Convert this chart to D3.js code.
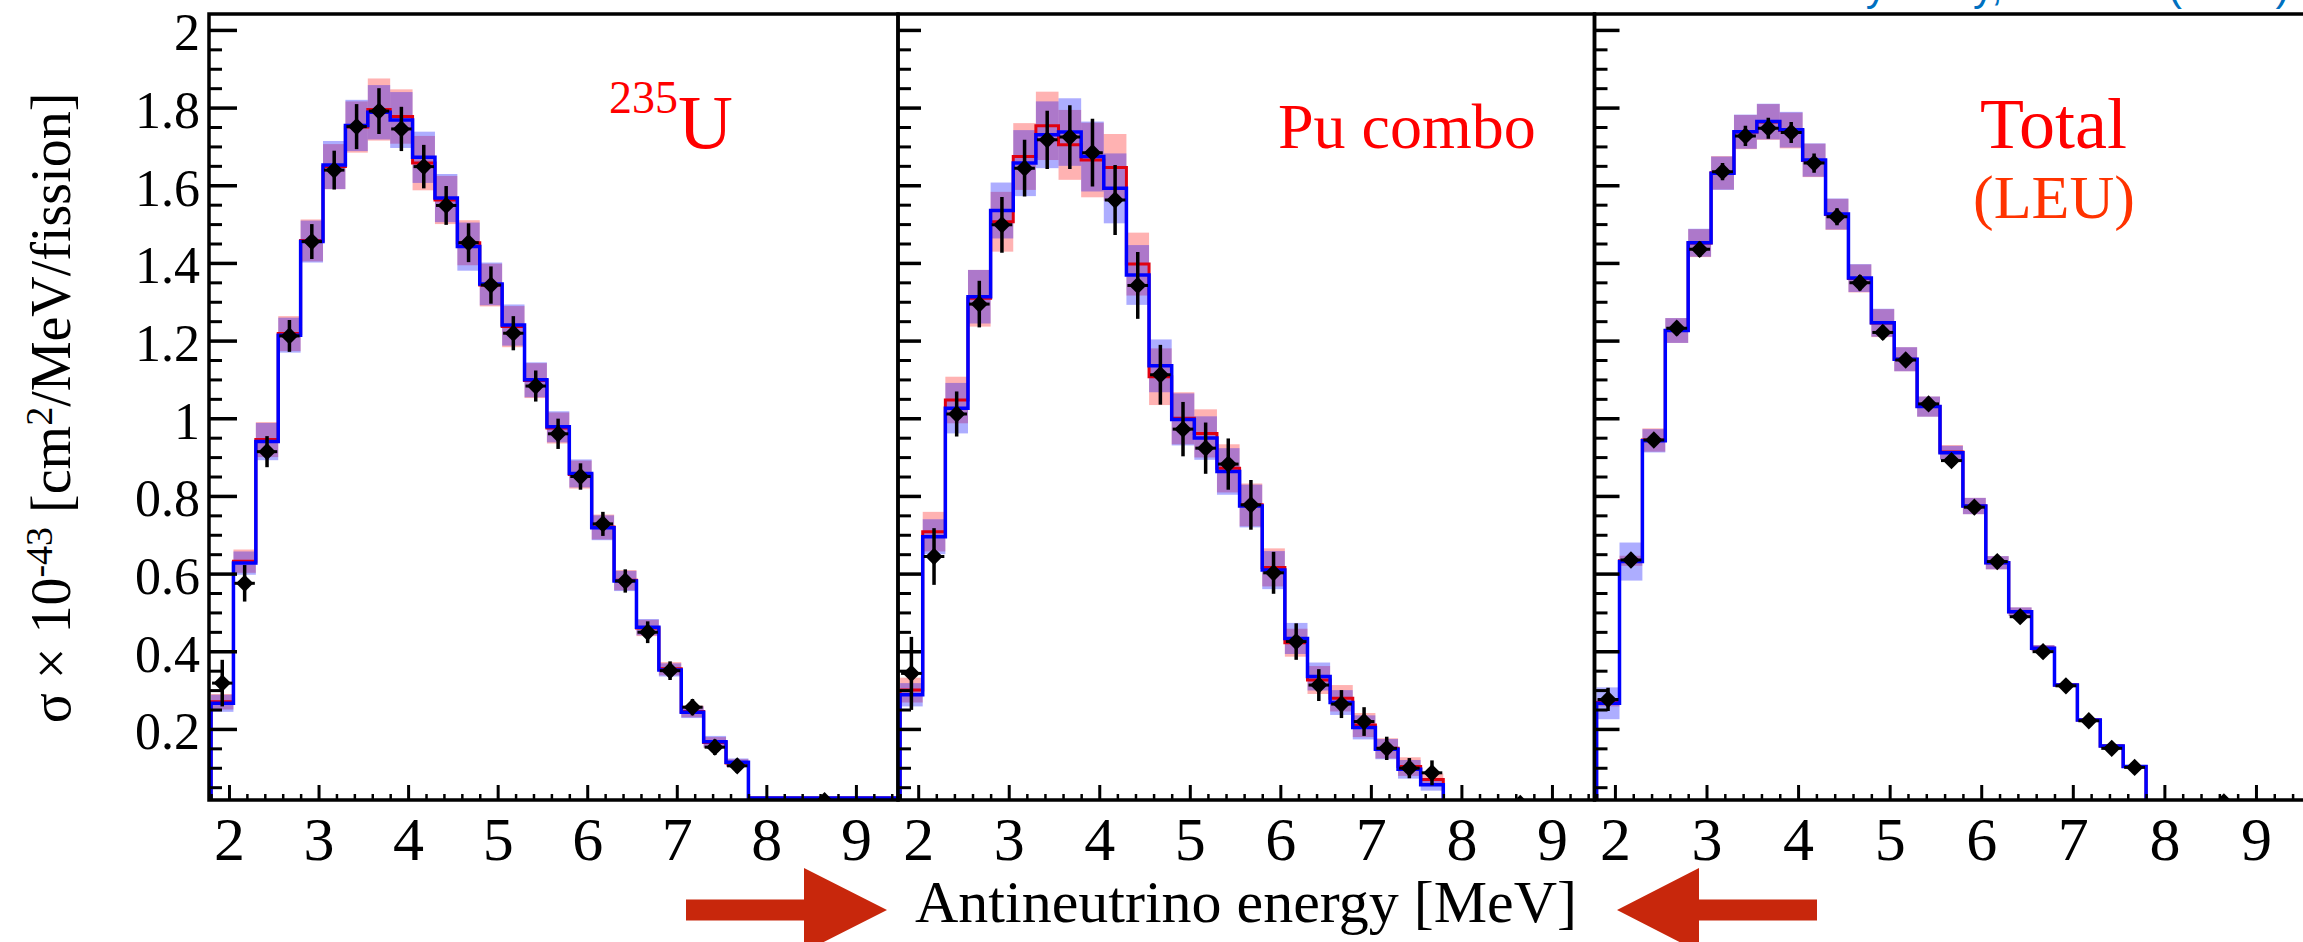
<!DOCTYPE html>
<html>
<head>
<meta charset="utf-8">
<script src="https://cdn.jsdelivr.net/npm/d3@7"></script>
<style>
  html, body { margin: 0; padding: 0; background: #fff; }
  svg { display: block; }
  text { font-family: "Liberation Serif", "Times New Roman", serif; }
  text.cite { font-family: "Liberation Sans", Arial, sans-serif; }
</style>
</head>
<body>
<div id="chart"></div>
<script>
// bin edges [MeV], the last one is the wide overflow bin
const binEdges = [1.8, 2.05, 2.3, 2.55, 2.8, 3.05, 3.3, 3.55, 3.8, 4.05, 4.3, 4.55, 4.8,
                  5.05, 5.3, 5.55, 5.8, 6.05, 6.3, 6.55, 6.8, 7.05, 7.3, 7.55, 7.8, 9.5];

const xTicks = [2, 3, 4, 5, 6, 7, 8, 9];
const xTickLabels = ["2", "3", "4", "5", "6", "7", "8", "9"];
const yTicks = [0.2, 0.4, 0.6, 0.8, 1.0, 1.2, 1.4, 1.6, 1.8, 2.0];
const yTickLabels = ["0.2", "0.4", "0.6", "0.8", "1", "1.2", "1.4", "1.6", "1.8", "2"];

// 235U
const u235Blue    = [0.266, 0.627, 0.940, 1.214, 1.455, 1.652, 1.754, 1.788, 1.768, 1.672, 1.567, 1.442, 1.346, 1.240, 1.099, 0.978, 0.858, 0.718, 0.581, 0.462, 0.352, 0.243, 0.167, 0.114, 0.022];
const u235Red     = [0.270, 0.632, 0.945, 1.218, 1.458, 1.648, 1.750, 1.795, 1.777, 1.657, 1.562, 1.452, 1.343, 1.236, 1.097, 0.975, 0.855, 0.720, 0.583, 0.460, 0.355, 0.245, 0.165, 0.112, 0.022];
const u235BlueErr = [0.022, 0.030, 0.048, 0.045, 0.054, 0.062, 0.066, 0.070, 0.072, 0.066, 0.062, 0.062, 0.055, 0.053, 0.045, 0.040, 0.036, 0.032, 0.026, 0.021, 0.017, 0.015, 0.015, 0.010, 0];
const u235RedErr  = [0.020, 0.030, 0.045, 0.045, 0.054, 0.058, 0.066, 0.080, 0.070, 0.070, 0.062, 0.058, 0.055, 0.053, 0.045, 0.040, 0.036, 0.032, 0.026, 0.021, 0.017, 0.015, 0.014, 0.010, 0];
const u235Data    = [0.318, 0.575, 0.914, 1.212, 1.455, 1.639, 1.751, 1.791, 1.745, 1.648, 1.548, 1.452, 1.343, 1.219, 1.083, 0.960, 0.850, 0.728, 0.581, 0.449, 0.350, 0.256, 0.153, 0.105, 0.015];
const u235DataErr = [0.060, 0.047, 0.040, 0.041, 0.045, 0.050, 0.058, 0.059, 0.057, 0.056, 0.050, 0.050, 0.048, 0.044, 0.040, 0.039, 0.034, 0.031, 0.030, 0.028, 0.024, 0.021, 0.020, 0.018, 0];

// Pu combo
const puBlue    = [0.288, 0.695, 1.026, 1.313, 1.535, 1.657, 1.730, 1.737, 1.674, 1.592, 1.369, 1.135, 0.997, 0.949, 0.863, 0.774, 0.609, 0.433, 0.335, 0.268, 0.204, 0.148, 0.096, 0.056, 0.010];
const puRed     = [0.300, 0.708, 1.047, 1.309, 1.506, 1.674, 1.753, 1.704, 1.665, 1.646, 1.397, 1.107, 1.000, 0.961, 0.871, 0.777, 0.616, 0.422, 0.326, 0.279, 0.210, 0.150, 0.103, 0.070, 0.010];
const puBlueErr = [0.030, 0.045, 0.065, 0.069, 0.072, 0.085, 0.086, 0.087, 0.090, 0.090, 0.077, 0.068, 0.067, 0.056, 0.060, 0.055, 0.049, 0.040, 0.036, 0.032, 0.031, 0.026, 0.024, 0.015, 0];
const puRedErr  = [0.032, 0.051, 0.060, 0.073, 0.077, 0.086, 0.088, 0.090, 0.096, 0.086, 0.081, 0.073, 0.067, 0.062, 0.062, 0.055, 0.049, 0.036, 0.036, 0.034, 0.031, 0.026, 0.024, 0.015, 0];
const puData    = [0.343, 0.644, 1.011, 1.294, 1.498, 1.644, 1.717, 1.724, 1.684, 1.562, 1.342, 1.112, 0.972, 0.923, 0.882, 0.777, 0.602, 0.425, 0.313, 0.264, 0.219, 0.150, 0.099, 0.087, 0.008];
const puDataErr = [0.094, 0.073, 0.058, 0.060, 0.072, 0.073, 0.075, 0.082, 0.087, 0.090, 0.086, 0.077, 0.070, 0.066, 0.066, 0.064, 0.054, 0.047, 0.041, 0.036, 0.037, 0.030, 0.026, 0.032, 0];

// Total (LEU)
const totalBlue    = [0.266, 0.631, 0.942, 1.226, 1.452, 1.631, 1.738, 1.764, 1.743, 1.665, 1.526, 1.361, 1.246, 1.152, 1.030, 0.911, 0.774, 0.628, 0.502, 0.408, 0.313, 0.223, 0.156, 0.103, 0.012];
const totalRed     = [0.268, 0.633, 0.944, 1.226, 1.451, 1.632, 1.737, 1.763, 1.741, 1.664, 1.525, 1.360, 1.245, 1.152, 1.030, 0.913, 0.774, 0.628, 0.502, 0.408, 0.313, 0.223, 0.156, 0.103, 0.012];
const totalBlueErr = [0.041, 0.049, 0.030, 0.032, 0.036, 0.043, 0.044, 0.046, 0.046, 0.043, 0.040, 0.036, 0.036, 0.031, 0.026, 0.018, 0.021, 0.017, 0.011, 0.008, 0.005, 0.004, 0.004, 0.003, 0];
const totalRedErr  = [0.010, 0.013, 0.030, 0.032, 0.036, 0.043, 0.044, 0.046, 0.046, 0.043, 0.040, 0.036, 0.036, 0.031, 0.026, 0.018, 0.021, 0.017, 0.011, 0.008, 0.005, 0.004, 0.004, 0.003, 0];
const totalData    = [0.276, 0.635, 0.944, 1.232, 1.435, 1.635, 1.727, 1.747, 1.736, 1.657, 1.519, 1.349, 1.221, 1.150, 1.037, 0.891, 0.771, 0.631, 0.489, 0.399, 0.311, 0.221, 0.150, 0.101, 0.012];
const totalDataErr = [0.030, 0.015, 0.015, 0.018, 0.020, 0.022, 0.026, 0.027, 0.027, 0.025, 0.022, 0.020, 0.018, 0.016, 0.014, 0.013, 0.011, 0.009, 0.008, 0.007, 0.006, 0.005, 0.004, 0.004, 0];

const W = 2303, H = 942;
const frameTop = 14, frameBottom = 800;

const panels = [
  {id: "p1", left: 209, right: 898, frameRight: 898, majorY: 28, showY: true,
   blue: u235Blue, red: u235Red, blueErr: u235BlueErr, redErr: u235RedErr, data: u235Data, dataErr: u235DataErr},
  {id: "p2", left: 898, right: 1594.5, frameRight: 1594.5, majorY: 23, showY: false,
   blue: puBlue, red: puRed, blueErr: puBlueErr, redErr: puRedErr, data: puData, dataErr: puDataErr},
  {id: "p3", left: 1594.5, right: 2299, frameRight: 2312, majorY: 25, showY: false,
   blue: totalBlue, red: totalRed, blueErr: totalBlueErr, redErr: totalRedErr, data: totalData, dataErr: totalDataErr}
];

let svg = d3.select("#chart")
  .append("svg")
  .attr("width", W)
  .attr("height", H);

svg.append("rect").attr("width", W).attr("height", H).attr("fill", "#fff");

let y = d3.scaleLinear().domain([0.017, 2.041]).range([frameBottom, frameTop]);

const bins = d3.range(binEdges.length - 1).map(i => ({i: i, lo: binEdges[i], hi: binEdges[i + 1], mid: (binEdges[i] + binEdges[i + 1]) / 2}));

const yMinor = d3.range(1, 41).map(k => k * 0.05).filter(v => Math.abs(v * 5 - Math.round(v * 5)) > 1e-6);
const xMinor = d3.range(9, 48).map(k => k * 0.2).filter(v => Math.abs(v - Math.round(v)) > 1e-6);

panels.forEach(function(p) {
  let x = d3.scaleLinear().domain([1.777, 9.47]).range([p.left, p.right]);

  svg.append("clipPath").attr("id", "clip-" + p.id)
    .append("rect")
    .attr("x", p.left).attr("y", frameTop)
    .attr("width", p.frameRight - p.left).attr("height", frameBottom - frameTop);

  let g = svg.append("g").attr("clip-path", "url(#clip-" + p.id + ")");

  // Step 1: uncertainty bands (red first, blue over it)
  g.selectAll(".band-red")
    .data(bins.filter(b => p.redErr[b.i] > 0))
    .enter().append("rect")
    .attr("x", d => x(d.lo))
    .attr("width", d => x(d.hi) - x(d.lo))
    .attr("y", d => y(p.red[d.i] + p.redErr[d.i]))
    .attr("height", d => y(p.red[d.i] - p.redErr[d.i]) - y(p.red[d.i] + p.redErr[d.i]))
    .attr("fill", "rgba(255,0,0,0.3)");

  g.selectAll(".band-blue")
    .data(bins.filter(b => p.blueErr[b.i] > 0))
    .enter().append("rect")
    .attr("x", d => x(d.lo))
    .attr("width", d => x(d.hi) - x(d.lo))
    .attr("y", d => y(p.blue[d.i] + p.blueErr[d.i]))
    .attr("height", d => y(p.blue[d.i] - p.blueErr[d.i]) - y(p.blue[d.i] + p.blueErr[d.i]))
    .attr("fill", "rgba(0,0,255,0.32)");

  // Step 2: step histograms
  let step = d3.line().x(d => x(d[0])).y(d => y(d[1])).curve(d3.curveStepAfter);
  function stepPoints(vals) {
    let pts = [[binEdges[0], 0.017]];
    vals.forEach((v, i) => pts.push([binEdges[i], v]));
    pts.push([binEdges[binEdges.length - 1], vals[vals.length - 1]]);
    return pts;
  }

  g.append("path")
    .attr("d", step(stepPoints(p.red)))
    .attr("fill", "none")
    .attr("stroke", "#e00010")
    .attr("stroke-width", 3);

  g.append("path")
    .attr("d", step(stepPoints(p.blue)))
    .attr("fill", "none")
    .attr("stroke", "#0000ff")
    .attr("stroke-width", 3.5);

  // Step 3: data points with error bars
  let pts = bins.map(b => ({b: b, v: p.data[b.i], e: p.dataErr[b.i]}));

  g.selectAll(".ev")
    .data(pts.filter(d => d.e > 0))
    .enter().append("line")
    .attr("x1", d => x(d.b.mid)).attr("x2", d => x(d.b.mid))
    .attr("y1", d => y(d.v - d.e)).attr("y2", d => y(d.v + d.e))
    .attr("stroke", "#000").attr("stroke-width", 3.5);

  g.selectAll(".eh")
    .data(pts.filter(d => d.e > 0))
    .enter().append("line")
    .attr("x1", d => x(d.b.lo) + 1).attr("x2", d => x(d.b.hi) - 1)
    .attr("y1", d => y(d.v)).attr("y2", d => y(d.v))
    .attr("stroke", "#000").attr("stroke-width", 3);

  g.selectAll(".marker")
    .data(pts)
    .enter().append("path")
    .attr("d", d3.symbol().type(d3.symbolSquare).size(150))
    .attr("transform", d => "translate(" + x(d.b.mid) + "," + y(d.v) + ") rotate(45)")
    .attr("fill", "#000");

  // Step 4: axes
  let yAxis = d3.axisLeft(y)
    .tickValues(yTicks)
    .tickSize(-p.majorY)
    .tickSizeOuter(0)
    .tickPadding(9)
    .tickFormat((d, i) => p.showY ? yTickLabels[i] : "");

  let ya = svg.append("g")
    .attr("transform", "translate(" + p.left + ",0)")
    .call(yAxis);
  ya.select(".domain").remove();
  ya.selectAll("line").attr("stroke-width", 3.5);
  ya.selectAll("text")
    .attr("font-size", 52)
    .attr("dy", "0.38em");

  let ym = svg.append("g")
    .attr("transform", "translate(" + p.left + ",0)")
    .call(d3.axisLeft(y).tickValues(yMinor).tickSize(-13).tickSizeOuter(0).tickFormat(""));
  ym.select(".domain").remove();
  ym.selectAll("line").attr("stroke-width", 3);

  let xAxis = d3.axisBottom(x)
    .tickValues(xTicks)
    .tickSize(-15)
    .tickSizeOuter(0)
    .tickPadding(16)
    .tickFormat((d, i) => xTickLabels[i]);

  let xa = svg.append("g")
    .attr("transform", "translate(0," + frameBottom + ")")
    .call(xAxis);
  xa.select(".domain").remove();
  xa.selectAll("line").attr("stroke-width", 3);
  xa.selectAll("text")
    .attr("font-size", 62);

  let xm = svg.append("g")
    .attr("transform", "translate(0," + frameBottom + ")")
    .call(d3.axisBottom(x).tickValues(xMinor).tickSize(-6).tickSizeOuter(0).tickFormat(""));
  xm.select(".domain").remove();
  xm.selectAll("line").attr("stroke-width", 2.5);

  // Step 5: frame
  svg.append("rect")
    .attr("x", p.left).attr("y", frameTop)
    .attr("width", p.frameRight - p.left).attr("height", frameBottom - frameTop)
    .attr("fill", "none")
    .attr("stroke", "#000")
    .attr("stroke-width", 3.5);
});

// panel labels
let lab1 = svg.append("text").attr("x", 609).attr("y", 113).attr("fill", "#ff0000");
lab1.append("tspan").attr("font-size", 46).text("235");
lab1.append("tspan").attr("font-size", 76).attr("dy", 35).text("U");

svg.append("text").attr("x", 1278).attr("y", 148).attr("fill", "#ff0000")
  .attr("font-size", 64).text("Pu combo");

svg.append("text").attr("x", 1980).attr("y", 148).attr("fill", "#ff0000")
  .attr("font-size", 72).text("Total");

svg.append("text").attr("x", 1973).attr("y", 218).attr("fill", "#ff3300")
  .attr("font-size", 62).text("(LEU)");

// y axis title
let yt = svg.append("text")
  .attr("transform", "translate(70,408) rotate(-90)")
  .attr("text-anchor", "middle")
  .attr("font-size", 56)
  .attr("fill", "#000");
yt.append("tspan").text("\u03c3 \u00d7 10");
yt.append("tspan").attr("font-size", 38).attr("dy", -18).text("-43");
yt.append("tspan").attr("dy", 18).text(" [cm");
yt.append("tspan").attr("font-size", 38).attr("dy", -18).text("2");
yt.append("tspan").attr("dy", 18).text("/MeV/fission]");

// x axis title
svg.append("text")
  .attr("x", 1246).attr("y", 922)
  .attr("text-anchor", "middle")
  .attr("font-size", 60)
  .attr("fill", "#000")
  .text("Antineutrino energy [MeV]");

// red arrows pointing at the axis title
const arrowY = 910, shaftHalf = 10.5, headHalf = 42;
function arrowPath(tail, base, tip) {
  return "M" + tail + "," + (arrowY - shaftHalf) +
    "L" + base + "," + (arrowY - shaftHalf) +
    "L" + base + "," + (arrowY - headHalf) +
    "L" + tip + "," + arrowY +
    "L" + base + "," + (arrowY + headHalf) +
    "L" + base + "," + (arrowY + shaftHalf) +
    "L" + tail + "," + (arrowY + shaftHalf) + "Z";
}
svg.append("path").attr("d", arrowPath(686, 804, 887)).attr("fill", "#c8270c");
svg.append("path").attr("d", arrowPath(1817, 1699, 1617)).attr("fill", "#c8270c");

// citation line, cut off by the top edge as in the source picture
svg.append("text").attr("class", "cite").attr("x", 1812).attr("y", 0)
  .attr("font-size", 42)
  .attr("fill", "#0070c0").text("Daya Bay, PRL 128");
svg.append("text").attr("class", "cite").attr("x", 2168).attr("y", 0)
  .attr("font-size", 42)
  .attr("fill", "#0070c0").text("(2022)");
</script>
</body>
</html>
